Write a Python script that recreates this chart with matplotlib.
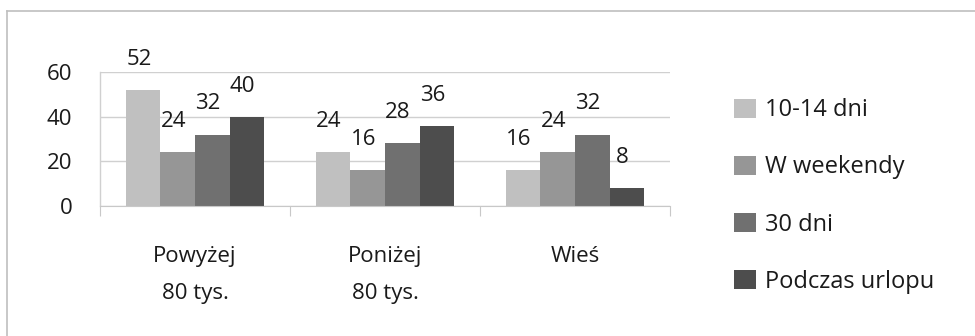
import matplotlib
matplotlib.use("Agg")
import matplotlib.pyplot as plt
from matplotlib.lines import Line2D
from matplotlib.patches import Patch
import numpy as np

categories = ["Powyżej\n80 tys.", "Poniżej\n80 tys.", "Wieś"]
series_names = ["10-14 dni", "W weekendy", "30 dni", "Podczas urlopu"]
s_10_14 = [52, 24, 16]
s_weekend = [24, 16, 24]
s_30 = [32, 28, 32]
s_urlop = [40, 36, 8]
series_values = [s_10_14, s_weekend, s_30, s_urlop]
colors = ["#C0C0C0", "#969696", "#707070", "#4D4D4D"]
yticks = [0, 20, 40, 60]

plt.rcParams['font.family'] = ['Open Sans', 'DejaVu Sans']
FS = 16
LFS = 17
TXT = "#1a1a1a"
W, H = 975, 336
fig = plt.figure(figsize=(W / 100, H / 100), dpi=100)

# outer chart border (left and top only visible)
fig.add_artist(Line2D([6.5 / W, 6.5 / W], [0, 1 - 11 / H], transform=fig.transFigure, color="#BFBFBF", lw=1.2))
fig.add_artist(Line2D([6.5 / W, 1], [1 - 11 / H, 1 - 11 / H], transform=fig.transFigure, color="#BFBFBF", lw=1.2))

left, right = 100 / W, 670 / W
bottom, top = 1 - 206 / H, 1 - 72 / H
ax = fig.add_axes([left, bottom, right - left, top - bottom])

n = len(series_values)
bw = 1 / (n + 1.5)
x = np.arange(len(categories))
for i, (vals, c) in enumerate(zip(series_values, colors)):
    pos = x - 2 * bw + (i + 0.5) * bw
    ax.bar(pos, vals, width=bw, color=c, zorder=3, label=series_names[i])
    for p, v in zip(pos, vals):
        ax.annotate(str(v), (p, v), xytext=(-3, 22), textcoords="offset points",
                    ha="center", va="center", fontsize=FS, color=TXT)

ax.set_xlim(-0.5, len(categories) - 0.5)
ax.set_ylim(0, 60)
ax.set_yticks(yticks)
ax.set_yticklabels([str(t) for t in yticks], fontsize=FS, color=TXT)
ax.yaxis.grid(True, color="#D0D0D0", lw=1, zorder=0)
ax.tick_params(axis="y", length=0, pad=20)
for s in ["top", "right", "left"]:
    ax.spines[s].set_visible(False)
ax.spines["bottom"].set_color("#C8C8C8")
ax.spines["bottom"].set_zorder(4)

# category boundaries ticks
ax.set_xticks(np.arange(-0.5, len(categories) + 0.5, 1), minor=False)
ax.set_xticklabels([])
ax.tick_params(axis="x", length=7, color="#C8C8C8", direction="out")
for xi, lab in zip(x, categories):
    ax.text(xi, (206 - 246) / 134, lab, transform=ax.get_xaxis_transform(), ha="center", va="top",
            fontsize=FS, color=TXT, linespacing=2.0)

# left axis line
ax.plot([-0.5, -0.5], [0, 60], color="#D0D0D0", lw=1, zorder=1, clip_on=False)

handles = [Patch(facecolor=c, edgecolor="none") for c in colors]
fig.legend(handles, series_names, loc="center left", bbox_to_anchor=(713 / W, 1 - 196 / H),
           frameon=False, fontsize=LFS, handlelength=0.9, handleheight=0.85,
           handletextpad=0.4, labelspacing=1.4, labelcolor=TXT)

fig.savefig("out.png", dpi=100, facecolor="white")
